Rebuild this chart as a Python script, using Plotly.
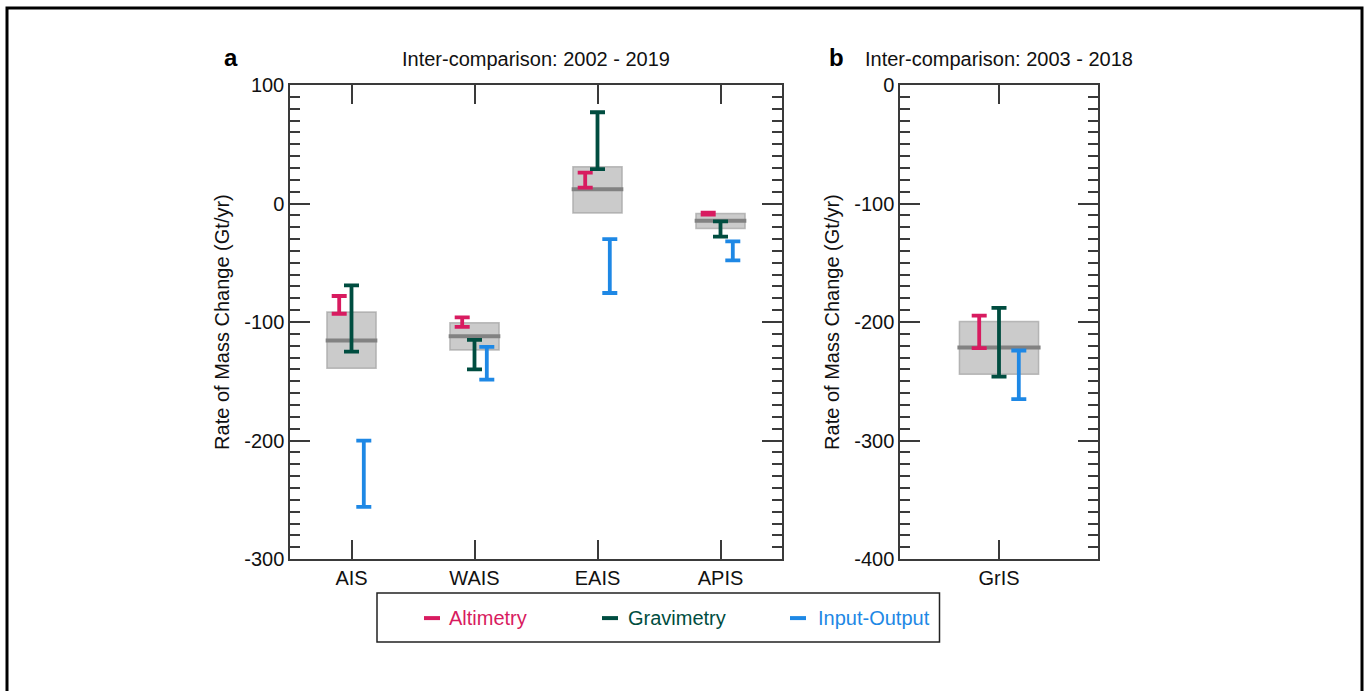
import plotly.graph_objects as go

W, H = 1366, 691

# ---------------- data (Gt/yr) ----------------
cats_a = ["AIS", "WAIS", "EAIS", "APIS"]
alt_low_a = [-93, -104, 13.5, -9.3]
alt_high_a = [-78, -96, 26, -7.8]
grav_low_a = [-125, -140, 29, -28]
grav_high_a = [-69, -115, 77, -15]
io_low_a = [-256, -148.5, -75.5, -48]
io_high_a = [-200, -121, -30, -32]
box_low_a = [-139, -123.5, -8, -21]
box_high_a = [-91.5, -100.5, 31, -8.5]
mean_a = [-115.5, -112, 12, -14.5]
yticks_a = [-300, -200, -100, 0, 100]

cats_b = ["GrIS"]
alt_low_b = [-222]
alt_high_b = [-194.5]
grav_low_b = [-246]
grav_high_b = [-188]
io_low_b = [-265]
io_high_b = [-224]
box_low_b = [-244]
box_high_b = [-199.5]
mean_b = [-221.5]
yticks_b = [-400, -300, -200, -100, 0]

series_names = ["Altimetry", "Gravimetry", "Input-Output"]
series_colors = ["#D81B60", "#004D40", "#1E88E5"]
series_offsets = [-0.1, 0.0, 0.1]

FONT = "Liberation Sans, Arial, sans-serif"
FS = 20


def px(x):
    return x / W


def py(y):
    # empirical correction of the vertical placement seen in the rendered page
    return 1 - ((y - 10.0) / 0.968) / H


fig = go.Figure()


def add_panel(cats, lows, highs, blow, bhigh, means, xa, ya):
    xs = list(range(len(cats)))
    # grey uncertainty box
    fig.add_trace(go.Bar(
        x=xs, y=[h - l for l, h in zip(blow, bhigh)], base=blow, width=0.4,
        marker=dict(color="rgba(160,160,160,0.55)",
                    line=dict(color="rgba(150,150,150,0.6)", width=1.5)),
        xaxis=xa, yaxis=ya, showlegend=False, hoverinfo="skip"))
    # mean line
    mx, my = [], []
    for x, m in zip(xs, means):
        mx += [x - 0.21, x + 0.21, None]
        my += [m, m, None]
    fig.add_trace(go.Scatter(x=mx, y=my, mode="lines",
                             line=dict(color="#828282", width=4),
                             xaxis=xa, yaxis=ya, showlegend=False, hoverinfo="skip"))
    # error bars
    for (lo, hi), col, off in zip(zip(lows, highs), series_colors, series_offsets):
        fig.add_trace(go.Scatter(
            x=[x + off for x in xs],
            y=[(a + b) / 2 for a, b in zip(lo, hi)],
            mode="markers",
            marker=dict(color="rgba(0,0,0,0)", size=1),
            error_y=dict(type="data", symmetric=True,
                         array=[(b - a) / 2 for a, b in zip(lo, hi)],
                         color=col, thickness=3.8, width=7.5),
            xaxis=xa, yaxis=ya, showlegend=False, hoverinfo="skip"))


add_panel(cats_a, [alt_low_a, grav_low_a, io_low_a], [alt_high_a, grav_high_a, io_high_a],
          box_low_a, box_high_a, mean_a, "x", "y")
add_panel(cats_b, [alt_low_b, grav_low_b, io_low_b], [alt_high_b, grav_high_b, io_high_b],
          box_low_b, box_high_b, mean_b, "x2", "y2")

axis_common = dict(showline=True, linecolor="#3a3a3a", linewidth=1.5, mirror="ticks",
                   ticks="inside", tickcolor="#3a3a3a", tickwidth=1.5, showgrid=False,
                   zeroline=False, tickfont=dict(family=FONT, size=FS, color="#111"))
minor_common = dict(dtick=10, ticklen=10, ticks="inside", tickcolor="#3a3a3a", tickwidth=1.5)
ytitle = dict(text="Rate of Mass Change (Gt/yr)", font=dict(family=FONT, size=FS, color="#111"),
              standoff=9)

fig.update_layout(
    width=W, height=H,
    margin=dict(l=0, r=0, t=0, b=0, pad=0),
    paper_bgcolor="white", plot_bgcolor="white",
    showlegend=False, barmode="overlay",
    font=dict(family=FONT, color="#111"),
    xaxis=dict(domain=[px(290), px(782)], range=[-0.5, 3.5], tickvals=list(range(len(cats_a))),
               ticktext=cats_a, ticklen=19, anchor="y", **axis_common),
    yaxis=dict(domain=[py(558), py(84)], range=[yticks_a[0], yticks_a[-1]], tickvals=yticks_a,
               ticktext=[str(v) for v in yticks_a],
               ticklen=20, anchor="x", minor=minor_common, title=ytitle, **axis_common),
    xaxis2=dict(domain=[px(900), px(1098)], range=[-0.5, 0.5], tickvals=list(range(len(cats_b))),
                ticktext=cats_b, ticklen=19, anchor="y2", **axis_common),
    yaxis2=dict(domain=[py(558), py(84)], range=[yticks_b[0], yticks_b[-1]], tickvals=yticks_b,
                ticktext=[str(v) for v in yticks_b],
                ticklen=20, anchor="x2", minor=minor_common, title=ytitle, **axis_common),
)

annotations = [
    dict(text="Inter-comparison: 2002 - 2019", x=px(536), y=py(58), xref="paper", yref="paper",
         showarrow=False, font=dict(family=FONT, size=FS, color="#111"), xanchor="center", yanchor="middle"),
    dict(text="Inter-comparison: 2003 - 2018", x=px(999), y=py(58), xref="paper", yref="paper",
         showarrow=False, font=dict(family=FONT, size=FS, color="#111"), xanchor="center", yanchor="middle"),
    dict(text="<b>a</b>", x=px(231), y=py(56), xref="paper", yref="paper",
         showarrow=False, font=dict(family=FONT, size=24, color="#000"), xanchor="center", yanchor="middle"),
    dict(text="<b>b</b>", x=px(836), y=py(56), xref="paper", yref="paper",
         showarrow=False, font=dict(family=FONT, size=24, color="#000"), xanchor="center", yanchor="middle"),
]

shapes = [
    # outer frame
    dict(type="rect", xref="paper", yref="paper", x0=px(7), x1=px(1362), y0=py(730), y1=py(7),
         line=dict(color="black", width=3), fillcolor="rgba(0,0,0,0)"),
    # legend box
    dict(type="rect", xref="paper", yref="paper", x0=px(377), x1=px(939.5), y0=py(641), y1=py(592),
         line=dict(color="#222", width=1.5), fillcolor="white"),
]

leg_marker_x = [424, 602, 790]
leg_text_x = [447, 626, 816]
leg_y = 617
for name, col, mx0, tx in zip(series_names, series_colors, leg_marker_x, leg_text_x):
    shapes.append(dict(type="line", xref="paper", yref="paper", x0=px(mx0), x1=px(mx0 + 16),
                       y0=py(leg_y), y1=py(leg_y), line=dict(color=col, width=4)))
    annotations.append(dict(text=name, x=px(tx), y=py(leg_y), xref="paper", yref="paper",
                            showarrow=False, font=dict(family=FONT, size=FS, color=col),
                            xanchor="left", yanchor="middle"))

fig.update_layout(annotations=annotations, shapes=shapes)
fig.write_html("out.html")
